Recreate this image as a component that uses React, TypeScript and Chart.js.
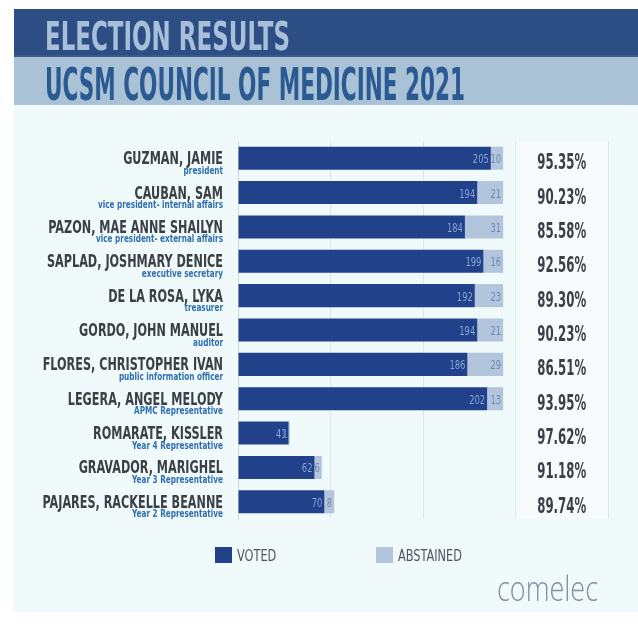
import React, { useEffect, useRef } from "react";
import { Chart, registerables } from "chart.js";

Chart.register(...registerables);

const NAMES = [
  "GUZMAN, JAMIE",
  "CAUBAN, SAM",
  "PAZON, MAE ANNE SHAILYN",
  "SAPLAD, JOSHMARY DENICE",
  "DE LA ROSA, LYKA",
  "GORDO, JOHN MANUEL",
  "FLORES, CHRISTOPHER IVAN",
  "LEGERA, ANGEL MELODY",
  "ROMARATE, KISSLER",
  "GRAVADOR, MARIGHEL",
  "PAJARES, RACKELLE BEANNE",
];
const ROLES = [
  "president",
  "vice president- internal affairs",
  "vice president- external affairs",
  "executive secretary",
  "treasurer",
  "auditor",
  "public information officer",
  "APMC Representative",
  "Year 4 Representative",
  "Year 3 Representative",
  "Year 2 Representative",
];
const VOTED = [205, 194, 184, 199, 192, 194, 186, 202, 41, 62, 70];
const ABSTAINED = [10, 21, 31, 16, 23, 21, 29, 13, 1, 6, 8];
const PERCENTS = [
  "95.35%",
  "90.23%",
  "85.58%",
  "92.56%",
  "89.30%",
  "90.23%",
  "86.51%",
  "93.95%",
  "97.62%",
  "91.18%",
  "89.74%",
];
const SERIES_LABELS = ["VOTED", "ABSTAINED"];
const TITLE_1 = "ELECTION RESULTS";
const TITLE_2 = "UCSM COUNCIL OF MEDICINE 2021";
const LOGO = "comelec";
const X_MAX = 300;
const X_STEP = 75;

const COND = '"Liberation Sans Narrow", "DejaVu Sans Condensed", "Liberation Sans", sans-serif';
const DARK = "#21428a";
const LIGHT = "#b3c5dc";

function calib(ctx: CanvasRenderingContext2D, font: string, ref: string, target: number) {
  ctx.save();
  ctx.font = font;
  const w = ctx.measureText(ref).width;
  ctx.restore();
  return w > 0 ? target / w : 1;
}

function drawText(
  ctx: CanvasRenderingContext2D,
  text: string,
  x: number,
  y: number,
  font: string,
  color: string,
  align: CanvasTextAlign,
  sx: number,
  baseline: CanvasTextBaseline = "alphabetic"
) {
  ctx.save();
  ctx.font = font;
  ctx.fillStyle = color;
  ctx.textAlign = align;
  ctx.textBaseline = baseline;
  ctx.translate(x, y);
  ctx.scale(sx, 1);
  ctx.fillText(text, 0, 0);
  ctx.restore();
}

const decorPlugin = {
  id: "decor",
  beforeDraw(chart: any) {
    const ctx: CanvasRenderingContext2D = chart.ctx;
    const W = chart.width;
    const H = chart.height;
    ctx.save();
    ctx.fillStyle = "#f1fafa";
    ctx.fillRect(0, 0, W, H);
    // title bands
    ctx.fillStyle = "#2c4e85";
    ctx.fillRect(0, 0, W, 47);
    ctx.fillStyle = "#3a5a8c";
    ctx.fillRect(0, 46, W, 2);
    ctx.fillStyle = "#a9c2d5";
    ctx.fillRect(0, 48, W, 48);
    ctx.restore();
    const f1 = `bold 39px ${COND}`;
    const f2 = `bold 45px ${COND}`;
    drawText(ctx, TITLE_1, 31, 41, f1, "#a8bfd9", "left", calib(ctx, f1, TITLE_1, 245));
    drawText(ctx, TITLE_2, 31, 91, f2, "#2b5a93", "left", calib(ctx, f2, TITLE_2, 420));
    // percent column background
    const xs = chart.scales.x;
    const a = chart.chartArea;
    ctx.save();
    ctx.fillStyle = "#f7fbfb";
    const l = xs.getPixelForValue(225);
    const r = xs.getPixelForValue(300);
    ctx.fillRect(l, a.top, r - l, a.bottom - a.top);
    ctx.restore();
  },
  afterDatasetsDraw(chart: any) {
    const ctx: CanvasRenderingContext2D = chart.ctx;
    const xs = chart.scales.x;
    const ys = chart.scales.y;
    const fName = `bold 18px ${COND}`;
    const fRole = `bold 10px ${COND}`;
    const fPct = `bold 21px ${COND}`;
    const fVal = `13px ${COND}`;
    const sName = calib(ctx, fName, "SAPLAD, JOSHMARY DENICE", 176);
    const sRole = calib(ctx, fRole, "vice president- internal affairs", 125);
    const sPct = calib(ctx, fPct, "95.35%", 49);
    const sVal = calib(ctx, fVal, "205", 16);
    const labelRight = xs.getPixelForValue(0) - 15;
    const pctX = xs.getPixelForValue(262.5);
    NAMES.forEach((name, i) => {
      const cy = ys.getPixelForValue(i);
      drawText(ctx, name, labelRight, cy + 6, fName, "#3b4047", "right", sName);
      drawText(ctx, ROLES[i], labelRight, cy + 15.5, fRole, "#2f6fae", "right", sRole);
      drawText(ctx, PERCENTS[i], pctX, cy + 11, fPct, "#3c4046", "center", sPct);
      const vEnd = xs.getPixelForValue(VOTED[i]);
      const aEnd = xs.getPixelForValue(VOTED[i] + ABSTAINED[i]);
      drawText(ctx, String(VOTED[i]), vEnd - 2, cy + 5, fVal, "#8aa4d0", "right", sVal);
      drawText(ctx, String(ABSTAINED[i]), aEnd - 2, cy + 5, fVal, "#6f8ab5", "right", sVal);
    });
    // legend
    const fLeg = `15px ${COND}`;
    const sLeg = calib(ctx, fLeg, "ABSTAINED", 64);
    const legY = 538;
    const items = [
      { x: 201, color: DARK },
      { x: 362, color: LIGHT },
    ];
    items.forEach((it, k) => {
      ctx.save();
      ctx.fillStyle = chart.data.datasets[k].backgroundColor || it.color;
      ctx.fillRect(it.x, legY, 17, 16);
      ctx.restore();
      drawText(ctx, chart.data.datasets[k].label, it.x + 22, legY + 14, fLeg, "#4d5761", "left", sLeg);
    });
    // logo
    const fLogo = `300 34px "Open Sans", "DejaVu Sans", sans-serif`;
    drawText(ctx, LOGO, 483, 592, fLogo, "#7f91a3", "left", calib(ctx, fLogo, LOGO, 101));
  },
};

export default function App() {
  const ref = useRef<HTMLCanvasElement | null>(null);
  useEffect(() => {
    document.body.style.overflow = "hidden";
    const canvas = ref.current;
    if (!canvas) return;
    const chart = new Chart(canvas, {
      type: "bar",
      data: {
        labels: NAMES,
        datasets: [
          {
            label: SERIES_LABELS[0],
            data: VOTED,
            backgroundColor: DARK,
            barPercentage: 0.67,
            categoryPercentage: 1,
          },
          {
            label: SERIES_LABELS[1],
            data: ABSTAINED,
            backgroundColor: LIGHT,
            barPercentage: 0.67,
            categoryPercentage: 1,
          },
        ],
      },
      options: {
        indexAxis: "y",
        responsive: false,
        animation: false,
        devicePixelRatio: 1,
        layout: { padding: { left: 224, right: 30, top: 132, bottom: 93 } },
        plugins: {
          legend: { display: false },
          tooltip: { enabled: false },
          title: { display: false },
        },
        scales: {
          x: {
            stacked: true,
            min: 0,
            max: X_MAX,
            ticks: { display: false, stepSize: X_STEP },
            grid: { color: "#dde6ea", drawTicks: false },
            border: { display: false },
            afterFit: (s: any) => {
              s.height = 0;
            },
          },
          y: {
            stacked: true,
            ticks: { display: false },
            grid: { display: false, drawTicks: false },
            border: { display: true, color: "#cfd8dd" },
            afterFit: (s: any) => {
              s.width = 0;
            },
          },
        },
      },
      plugins: [decorPlugin],
    } as any);
    return () => chart.destroy();
  }, []);
  return (
    <div style={{ position: "absolute", left: 14, top: 9, width: 624, height: 603 }}>
      <canvas
        ref={ref}
        width={624}
        height={603}
        style={{ display: "block", width: 624, height: 603, maxWidth: "none" }}
      />
    </div>
  );
}
